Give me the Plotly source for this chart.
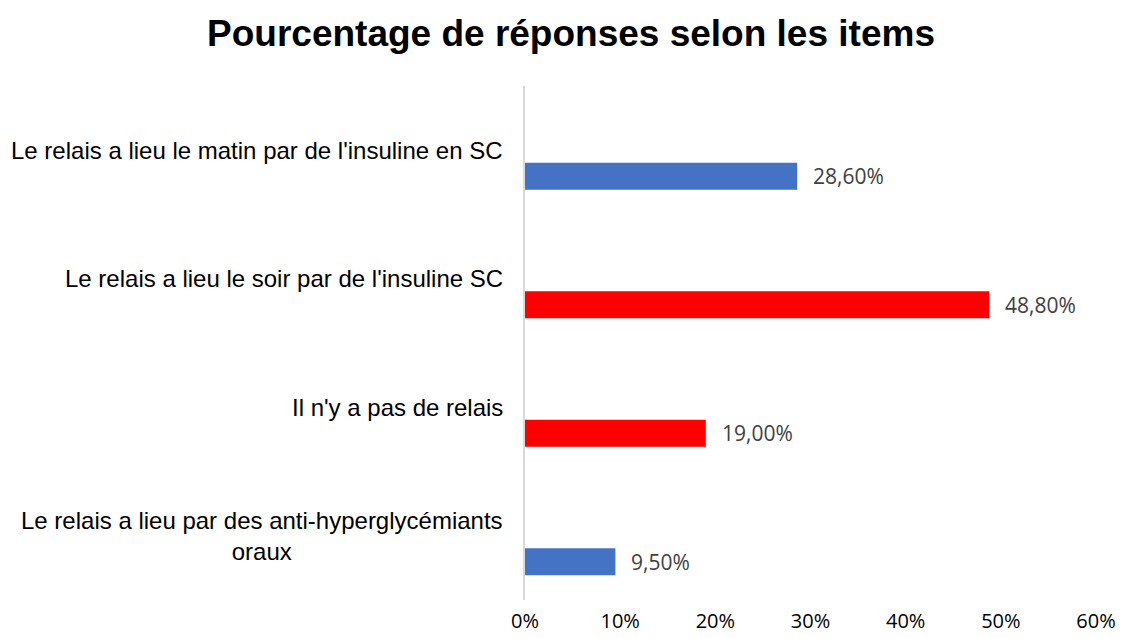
import plotly.graph_objects as go

categories = [
    "Le relais a lieu le matin par de l'insuline en SC",
    "Le relais a lieu le soir par de l'insuline SC",
    "Il n'y a pas de relais",
    "Le relais a lieu par des anti-hyperglycémiants<br>oraux",
]
values = [28.6, 48.8, 19.0, 9.5]
colors = ["#4472C4", "#FF0000", "#FF0000", "#4472C4"]
x_ticks = [0, 10, 20, 30, 40, 50, 60]
title_text = "Pourcentage de réponses selon les items"

labels = [f"{v:.2f}".replace(".", ",") + "%" for v in values]

W, H = 1121, 638

fig = go.Figure()
fig.add_trace(go.Bar(
    y=categories, x=values, orientation="h",
    marker=dict(color=colors, line=dict(width=0)),
    width=0.21, offset=0.097, hoverinfo="x+y",
))

annotations = []
for c in categories:
    annotations.append(dict(
        x=0, xref="paper", xanchor="right", xshift=-20,
        y=c, yref="y", yanchor="middle", align="center",
        text=c, showarrow=False,
        font=dict(family="Liberation Sans, Arial", size=24, color="#000000"),
    ))
for c, v, t in zip(categories, values, labels):
    annotations.append(dict(
        x=v, xref="x", xanchor="left", xshift=14,
        y=c, yref="y", yanchor="middle", yshift=-26,
        text=t, showarrow=False,
        font=dict(family="Open Sans", size=21, color="#404040"),
    ))

fig.update_layout(
    width=W, height=H,
    margin=dict(l=525, r=25, t=86, b=38, autoexpand=False),
    paper_bgcolor="white", plot_bgcolor="white",
    title=dict(text=f"<b>{title_text}</b>", x=571 / W, xanchor="center",
               y=1 - 33 / H, yanchor="middle", yref="container",
               font=dict(family="Liberation Sans, Arial", size=37, color="#000000")),
    showlegend=False,
    annotations=annotations,
    xaxis=dict(range=[0, 60], tickvals=x_ticks,
               ticktext=[f"{t}%" for t in x_ticks],
               showgrid=False, zeroline=False, showline=False, ticks="",
               ticklabelstandoff=7, automargin=False,
               tickfont=dict(family="Open Sans", size=20, color="#000000")),
    yaxis=dict(type="category", range=[3.5, -0.5], showticklabels=False,
               showgrid=False, zeroline=False, showline=True, automargin=False,
               linecolor="#D9D9D9", linewidth=1.5, ticks=""),
)

fig.write_html(
    "out.html",
    config={"displayModeBar": False},
    post_script="document.body.style.margin='0';document.body.style.overflow='hidden';",
)
